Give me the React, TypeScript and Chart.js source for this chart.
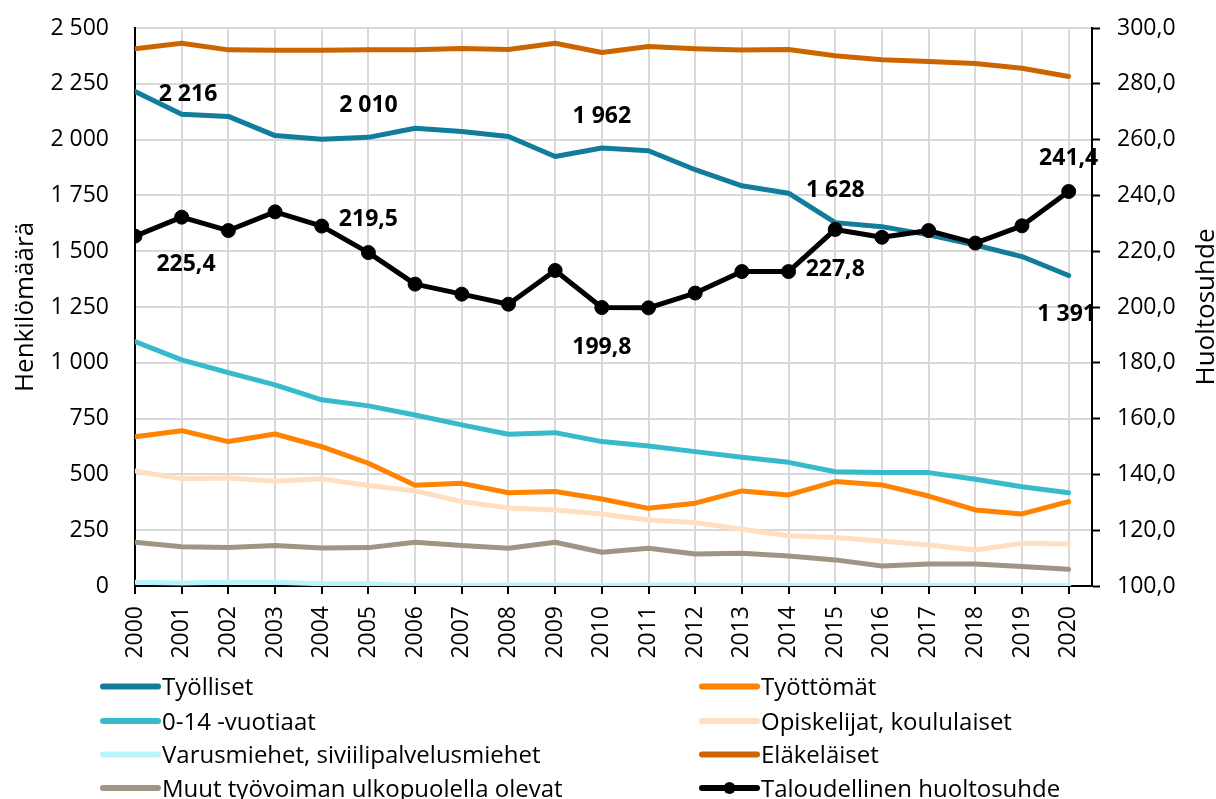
import React, { useEffect, useRef } from 'react';
import { Chart, registerables } from 'chart.js';

Chart.register(...registerables);

// ---------- DATA ----------
const years = [2000, 2001, 2002, 2003, 2004, 2005, 2006, 2007, 2008, 2009, 2010, 2011, 2012, 2013, 2014, 2015, 2016, 2017, 2018, 2019, 2020];

const tyolliset = [2216, 2114, 2104, 2018, 2002, 2010, 2051, 2036, 2014, 1924, 1962, 1950, 1865, 1793, 1760, 1628, 1610, 1573, 1528, 1476, 1391];
const tyottomat = [669, 696, 647, 681, 624, 550, 451, 460, 418, 423, 390, 348, 371, 426, 408, 468, 453, 403, 341, 323, 378];
const lapset = [1095, 1013, 956, 901, 834, 807, 766, 722, 680, 687, 647, 627, 602, 577, 554, 512, 508, 508, 478, 445, 418];
const opiskelijat = [515, 480, 484, 469, 480, 450, 426, 378, 350, 341, 323, 296, 284, 254, 225, 217, 202, 184, 161, 191, 188];
const varusmiehet = [17, 13, 17, 17, 10, 10, 1, 1, 5, 5, 1, 5, 5, 2, 2, 2, 2, 2, 2, 2, 2];
const elakelaiset = [2407, 2432, 2402, 2400, 2400, 2402, 2402, 2408, 2404, 2432, 2390, 2417, 2407, 2401, 2404, 2376, 2358, 2350, 2341, 2320, 2283];
const muut = [196, 176, 172, 181, 170, 172, 196, 181, 169, 196, 151, 169, 143, 147, 134, 117, 90, 99, 99, 87, 75];
const huoltosuhde = [225.4, 232.2, 227.4, 234.1, 229.0, 219.5, 208.2, 204.6, 201.0, 213.1, 199.8, 199.7, 205.0, 212.7, 212.7, 227.8, 225.0, 227.4, 222.9, 229.1, 241.4];

const seriesNames = [
  'Työlliset',
  '0-14 -vuotiaat',
  'Varusmiehet, siviilipalvelusmiehet',
  'Muut työvoiman ulkopuolella olevat',
  'Työttömät',
  'Opiskelijat, koululaiset',
  'Eläkeläiset',
  'Taloudellinen huoltosuhde',
];

const leftTicks = { min: 0, max: 2500, step: 250 };
const rightTicks = { min: 100, max: 300, step: 20 };
const labelledYears = [2000, 2005, 2010, 2015, 2020];

const leftTitle = 'Henkilömäärä';
const rightTitle = 'Huoltosuhde';

// ---------- STYLE ----------
const FONT = '"Open Sans", "Noto Sans", sans-serif';
const colors = {
  tyolliset: '#117D9B',
  lapset: '#37BACB',
  varus: '#B9F4FB',
  muut: '#A09585',
  tyottomat: '#FF8200',
  opisk: '#FFDFC0',
  elake: '#CC6500',
  huolto: '#000000',
};

const fmtInt = (v: number) => Math.round(v).toString().replace(/\B(?=(\d{3})+(?!\d))/g, ' ');
const fmtDec = (v: number) => Number(v).toFixed(1).replace('.', ',');

const pts = (arr: number[]) => years.map((y, i) => ({ x: y, y: arr[i] }));

const lineDs = (label: string, data: number[], color: string) => ({
  label,
  data: pts(data),
  borderColor: color,
  backgroundColor: color,
  borderWidth: 5,
  pointRadius: 0,
  pointHoverRadius: 0,
  tension: 0,
  borderCapStyle: 'round' as const,
  borderJoinStyle: 'round' as const,
  yAxisID: 'y',
});

// data label plugin: offsets in px (styling)
const labelOffsets: Record<number, number[][]> = {
  0: [[51, 27], [0, -35], [0, 38], [0, 38], [0, -35]],
  1: [[53, 1], [0, -34], [0, -33], [0, -34], [-2, 37]],
};

const dataLabelPlugin = {
  id: 'dataLabels',
  afterDatasetsDraw(chart: any) {
    const ctx = chart.ctx;
    ctx.save();
    ctx.font = `bold 23px ${FONT}`;
    ctx.fillStyle = '#000';
    ctx.textAlign = 'center';
    ctx.textBaseline = 'alphabetic';
    Object.keys(labelOffsets).forEach((k) => {
      const di = Number(k);
      const ds = chart.data.datasets[di];
      const yScale = chart.scales[ds.yAxisID];
      const xScale = chart.scales.x;
      labelledYears.forEach((yr, j) => {
        const idx = years.indexOf(yr);
        const v = ds.data[idx].y;
        const px = xScale.getPixelForValue(yr) + labelOffsets[di][j][0];
        const py = yScale.getPixelForValue(v) + labelOffsets[di][j][1];
        const txt = ds.yAxisID === 'y1' ? fmtDec(v) : fmtInt(v);
        ctx.fillText(txt, px, py + 8.2);
      });
    });
    ctx.restore();
  },
};

// legend plugin: 2 columns x 4 rows
const legendPlugin = {
  id: 'legend2col',
  afterDraw(chart: any) {
    const ctx = chart.ctx;
    const colX = [103, 702];
    const rowY = [686.5, 721, 754.5, 788];
    const lineLen = 55;
    const order = seriesNames.map((name) => chart.data.datasets.findIndex((d: any) => d.label === name));
    ctx.save();
    ctx.font = `24px ${FONT}`;
    ctx.textBaseline = 'alphabetic';
    ctx.textAlign = 'left';
    order.forEach((di: number, i: number) => {
      const ds = chart.data.datasets[di];
      const col = Math.floor(i / 4);
      const row = i % 4;
      const x0 = colX[col];
      const y = rowY[row];
      ctx.strokeStyle = ds.borderColor;
      ctx.lineWidth = 6;
      ctx.lineCap = 'round';
      ctx.beginPath();
      ctx.moveTo(x0, y);
      ctx.lineTo(x0 + lineLen, y);
      ctx.stroke();
      if (ds.pointRadius > 0) {
        ctx.fillStyle = ds.borderColor;
        ctx.beginPath();
        ctx.arc(x0 + lineLen / 2, y, 6, 0, Math.PI * 2);
        ctx.fill();
      }
      ctx.fillStyle = '#000';
      ctx.fillText(ds.label, x0 + lineLen + 4, y + 8.6);
    });
    ctx.restore();
  },
};

// axis titles (both read bottom-to-top)
const axisTitlePlugin = {
  id: 'axisTitles',
  afterDraw(chart: any) {
    const ctx = chart.ctx;
    const area = chart.chartArea;
    const cy = (area.top + area.bottom) / 2;
    ctx.save();
    ctx.font = `26px ${FONT}`;
    ctx.fillStyle = '#000';
    ctx.textAlign = 'center';
    ctx.textBaseline = 'alphabetic';
    ctx.save();
    ctx.translate(33, cy);
    ctx.rotate(-Math.PI / 2);
    ctx.fillText(leftTitle, 0, 0);
    ctx.restore();
    ctx.save();
    ctx.translate(1214, cy);
    ctx.rotate(-Math.PI / 2);
    ctx.fillText(rightTitle, 0, 0);
    ctx.restore();
    ctx.restore();
  },
};

const fixVertical = (w: number) => (s: any) => {
  s.width = w;
  s.paddingTop = 0;
  s.paddingBottom = 0;
};

export default function App() {
  const ref = useRef<HTMLCanvasElement | null>(null);

  useEffect(() => {
    document.body.style.margin = '0';
    let chart: Chart | null = null;
    let cancelled = false;

    const make = () => {
      if (cancelled || !ref.current) return;
      const datasets: any[] = [
        {
          label: seriesNames[7],
          data: pts(huoltosuhde),
          yAxisID: 'y1',
          borderColor: colors.huolto,
          backgroundColor: colors.huolto,
          borderWidth: 5,
          pointRadius: 7,
          pointHoverRadius: 7,
          pointBackgroundColor: colors.huolto,
          pointBorderColor: colors.huolto,
          pointBorderWidth: 1,
          tension: 0,
          borderJoinStyle: 'round',
        },
        lineDs(seriesNames[0], tyolliset, colors.tyolliset),
        lineDs(seriesNames[6], elakelaiset, colors.elake),
        lineDs(seriesNames[4], tyottomat, colors.tyottomat),
        lineDs(seriesNames[1], lapset, colors.lapset),
        lineDs(seriesNames[5], opiskelijat, colors.opisk),
        lineDs(seriesNames[3], muut, colors.muut),
        lineDs(seriesNames[2], varusmiehet, colors.varus),
      ];

      chart = new Chart(ref.current, {
        type: 'line',
        data: { datasets },
        plugins: [dataLabelPlugin, legendPlugin, axisTitlePlugin],
        options: {
          responsive: false,
          animation: false,
          devicePixelRatio: 1,
          layout: { padding: { top: 28, bottom: 138, left: 0, right: 0 } },
          plugins: {
            legend: { display: false },
            tooltip: { enabled: false },
          },
          scales: {
            x: {
              type: 'linear',
              min: years[0],
              max: years[years.length - 1] + 0.5,
              afterBuildTicks: (s: any) => {
                s.ticks = years.map((v) => ({ value: v }));
              },
              afterFit: (s: any) => {
                s.height = 75;
                s.paddingLeft = 0;
                s.paddingRight = 0;
              },
              grid: { color: '#D9D9D9', lineWidth: 2, tickColor: '#000', tickLength: 8, tickWidth: 2 },
              border: { color: '#000', width: 2 },
              ticks: {
                autoSkip: false,
                minRotation: 90,
                maxRotation: 90,
                padding: 12,
                color: '#000',
                font: { family: FONT, size: 23 },
                callback: (v: any) => String(v),
              },
            },
            y: {
              position: 'left',
              min: leftTicks.min,
              max: leftTicks.max,
              afterFit: fixVertical(135),
              grid: { color: '#D9D9D9', lineWidth: 2, drawTicks: false },
              border: { color: '#000', width: 2 },
              ticks: {
                stepSize: leftTicks.step,
                padding: 26,
                color: '#000',
                font: { family: FONT, size: 23 },
                callback: (v: any) => fmtInt(Number(v)),
              },
            },
            y1: {
              position: 'right',
              min: rightTicks.min,
              max: rightTicks.max,
              afterFit: fixVertical(124),
              grid: { drawOnChartArea: false, tickColor: '#000', tickLength: 8, tickWidth: 2 },
              border: { color: '#000', width: 2 },
              ticks: {
                stepSize: rightTicks.step,
                padding: 17,
                color: '#000',
                font: { family: FONT, size: 23 },
                callback: (v: any) => fmtDec(Number(v)),
              },
            },
          },
        } as any,
      });
    };

    const fontsReady = (document as any).fonts
      ? Promise.all([
          (document as any).fonts.load(`23px ${FONT}`),
          (document as any).fonts.load(`bold 23px ${FONT}`),
        ])
      : Promise.resolve();
    fontsReady.then(make, make);

    return () => {
      cancelled = true;
      if (chart) chart.destroy();
    };
  }, []);

  return (
    <div style={{ width: 1216, height: 799, background: '#fff' }}>
      <canvas ref={ref} width={1216} height={799} style={{ display: 'block', width: 1216, height: 799 }} />
    </div>
  );
}
